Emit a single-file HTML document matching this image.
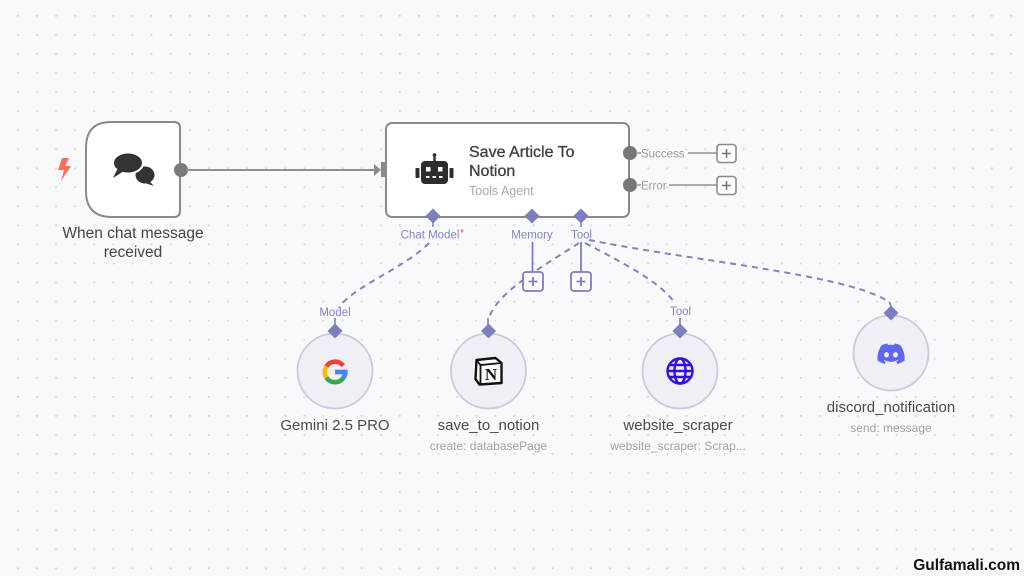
<!DOCTYPE html>
<html><head><meta charset="utf-8"><style>
html,body{margin:0;padding:0;background:#f8f9fb;}
svg{display:block;font-family:"Liberation Sans",sans-serif;}
</style></head><body>
<svg width="1024" height="576" viewBox="0 0 1024 576" xmlns="http://www.w3.org/2000/svg">
<defs>
<pattern id="grid" x="8.2" y="6.2" width="19.1" height="19.05" patternUnits="userSpaceOnUse">
<rect x="8.8" y="8.8" width="1.7" height="1.7" fill="#d3d4dc"/>
</pattern>
</defs>
<rect width="1024" height="576" fill="#f8f9fb"/>
<rect width="1024" height="576" fill="url(#grid)"/>

<!-- lightning -->
<polygon points="62,158 58,170 64,170 61,181 71,166 65,166 69,158" fill="#ff6d5a"/>

<!-- trigger node -->
<path d="M111,122 H174 Q180,122 180,128 V211 Q180,217 174,217 H112 Q86,217 86,191 V148 Q86,122 111,122 Z" fill="#ffffff" stroke="#8a8a8a" stroke-width="2"/>
<!-- chat icon -->
<ellipse cx="145" cy="175" rx="9.5" ry="8.5" fill="#333"/>
<polygon points="148,180 154,186 145,183" fill="#333"/>
<ellipse cx="128" cy="163" rx="15" ry="10.5" fill="#333" stroke="#ffffff" stroke-width="2"/>
<polygon points="118,168 113,178 124,171" fill="#333"/>
<text x="133" y="238" font-size="15.5" fill="#444" text-anchor="middle">When chat message</text>
<text x="133" y="257" font-size="15.5" fill="#444" text-anchor="middle">received</text>

<!-- main connection -->
<circle cx="181" cy="170" r="7" fill="#7a7a7a"/>
<line x1="186" y1="170" x2="376" y2="170" stroke="#8f8f8f" stroke-width="2"/>
<polygon points="374,164 381,170 374,176" fill="#8a8a8a"/>
<rect x="381" y="162" width="6" height="15" fill="#8a8a8a"/>

<!-- agent node -->
<rect x="386" y="123" width="243" height="94" rx="6" fill="#ffffff" stroke="#8a8a8a" stroke-width="2"/>
<!-- robot -->
<line x1="434.5" y1="154" x2="434.5" y2="162" stroke="#2d2d2d" stroke-width="2.4"/>
<circle cx="434.5" cy="155" r="1.8" fill="#2d2d2d"/>
<rect x="421" y="161" width="27" height="23" rx="4" fill="#2d2d2d"/>
<rect x="415.5" y="168" width="4" height="10" rx="1" fill="#2d2d2d"/>
<rect x="449.5" y="168" width="4" height="10" rx="1" fill="#2d2d2d"/>
<rect x="426" y="167" width="4.5" height="4.5" fill="#fff"/>
<rect x="438" y="167" width="4.5" height="4.5" fill="#fff"/>
<rect x="426" y="176" width="3.5" height="2" fill="#fff"/>
<rect x="432.5" y="176" width="3.5" height="2" fill="#fff"/>
<rect x="439" y="176" width="3.5" height="2" fill="#fff"/>
<text x="469" y="157" font-size="16" fill="#3e3e3e" stroke="#3e3e3e" stroke-width="0.3">Save Article To</text>
<text x="469" y="176" font-size="16" fill="#3e3e3e" stroke="#3e3e3e" stroke-width="0.3">Notion</text>
<text x="469" y="195" font-size="12.5" fill="#a8a8a8">Tools Agent</text>

<!-- outputs -->
<circle cx="630" cy="153" r="7" fill="#777"/>
<circle cx="630" cy="185" r="7" fill="#777"/>
<line x1="636" y1="153" x2="641" y2="153" stroke="#999" stroke-width="1.5"/>
<line x1="636" y1="185" x2="641" y2="185" stroke="#999" stroke-width="1.5"/>
<text x="641" y="157.5" font-size="11.5" fill="#9a9a9a">Success</text>
<text x="641" y="189.5" font-size="11.5" fill="#9a9a9a">Error</text>
<line x1="688" y1="153" x2="717" y2="153" stroke="#8f8f8f" stroke-width="1.6"/>
<line x1="669" y1="185" x2="717" y2="185" stroke="#8f8f8f" stroke-width="1.6"/>
<rect x="717" y="144.5" width="19" height="18" rx="3" fill="#fff" stroke="#8a8a8a" stroke-width="1.6"/>
<path d="M726.5,149 V158 M722,153.5 H731" stroke="#777" stroke-width="1.6"/>
<rect x="717" y="176.5" width="19" height="18" rx="3" fill="#fff" stroke="#8a8a8a" stroke-width="1.6"/>
<path d="M726.5,181 V190 M722,185.5 H731" stroke="#777" stroke-width="1.6"/>

<!-- bottom handles -->
<g fill="#7d7dc0">
<polygon points="433,208.5 440.5,216 433,223.5 425.5,216"/>
<polygon points="532,208.5 539.5,216 532,223.5 524.5,216"/>
<polygon points="581,208.5 588.5,216 581,223.5 573.5,216"/>
</g>
<line x1="433" y1="222" x2="433" y2="227" stroke="#7d7dc0" stroke-width="1.5"/>
<line x1="581" y1="222" x2="581" y2="227" stroke="#7d7dc0" stroke-width="1.5"/>
<text x="430" y="238.5" font-size="11.5" fill="#8686c6" text-anchor="middle">Chat Model</text>
<text x="460" y="236" font-size="10" fill="#ff4d4d">*</text>
<text x="532" y="238.5" font-size="11.5" fill="#8686c6" text-anchor="middle">Memory</text>
<text x="581.5" y="238.5" font-size="11.5" fill="#8686c6" text-anchor="middle">Tool</text>

<!-- memory / tool solid lines + plus -->
<line x1="532.5" y1="242" x2="532.5" y2="272" stroke="#7d7dc0" stroke-width="1.8"/>
<line x1="581" y1="242" x2="581" y2="272" stroke="#7d7dc0" stroke-width="1.8"/>

<!-- dashed connections -->
<g fill="none" stroke="#8383c3" stroke-width="2" stroke-dasharray="6,5">
<path d="M429,243 C405,268 350,288 339,308"/>
<path d="M579,243 C545,265 497,292 489,318"/>
<path d="M585,243 C625,264 660,282 674,302"/>
<path d="M589,240 C700,262 850,275 889,302"/>
</g>
<rect x="523" y="272" width="20" height="19" rx="3" fill="#fbfbfd" stroke="#7d7dc0" stroke-width="1.8"/>
<path d="M533,277 V286 M528.5,281.5 H537.5" stroke="#7d7dc0" stroke-width="1.8"/>
<rect x="571" y="272" width="20" height="19" rx="3" fill="#fbfbfd" stroke="#7d7dc0" stroke-width="1.8"/>
<path d="M581,277 V286 M576.5,281.5 H585.5" stroke="#7d7dc0" stroke-width="1.8"/>

<!-- sub node labels -->
<text x="335" y="316" font-size="11.5" fill="#8686c6" text-anchor="middle">Model</text>
<text x="680.5" y="315" font-size="11.5" fill="#8686c6" text-anchor="middle">Tool</text>
<g stroke="#7d7dc0" stroke-width="1.6" fill="none">
<line x1="335" y1="318" x2="335" y2="326"/>
<line x1="680" y1="318" x2="680" y2="326"/>
<line x1="488" y1="318" x2="488" y2="326"/>
<path d="M889,302 Q891,304 891,309"/>
</g>

<!-- circles -->
<g fill="#efeff5" stroke="#c9c9df" stroke-width="1.8">
<circle cx="335" cy="371" r="37.5"/>
<circle cx="488.5" cy="371" r="37.5"/>
<circle cx="680" cy="371" r="37.5"/>
<circle cx="891" cy="353" r="37.5"/>
</g>
<g fill="#7d7dc0">
<polygon points="335,323.5 342.5,331 335,338.5 327.5,331"/>
<polygon points="488.5,323.5 496,331 488.5,338.5 481,331"/>
<polygon points="680,323.5 687.5,331 680,338.5 672.5,331"/>
<polygon points="891,305.5 898.5,313 891,320.5 883.5,313"/>
</g>

<!-- Google G -->
<g transform="translate(335,372)" fill="none" stroke-width="4.6">
<path d="M8.2,-6.3 A10.3,10.3 0 0 0 -8.6,-5.6" stroke="#ea4335"/>
<path d="M-8.6,-5.6 A10.3,10.3 0 0 0 -8.6,5.6" stroke="#fbbc05"/>
<path d="M-8.6,5.6 A10.3,10.3 0 0 0 8.3,6" stroke="#34a853"/>
<path d="M8.3,6 A10.3,10.3 0 0 0 10.3,0" stroke="#4285f4"/>
<line x1="0" y1="0" x2="12.6" y2="0" stroke="#4285f4"/>
</g>

<!-- Notion -->
<g transform="translate(488.5,371)">
<path d="M-12,-11 L7,-13 L13,-8 L13,12 L-9,13.5 L-13,8 Z" fill="#fff" stroke="#111" stroke-width="2.4" stroke-linejoin="round"/>
<path d="M-12,-11 L-8,-6 L13,-8" fill="none" stroke="#111" stroke-width="1.8"/>
<line x1="-8" y1="-6" x2="-8" y2="13" stroke="#111" stroke-width="1.8"/>
<text x="2.5" y="9" font-family="Liberation Serif,serif" font-weight="bold" font-size="17" fill="#111" text-anchor="middle">N</text>
</g>

<!-- Globe -->
<g transform="translate(680,371)" fill="none" stroke="#2f10e6" stroke-width="2.4">
<circle r="12.5"/>
<ellipse rx="5.5" ry="12.5"/>
<line x1="-12.5" y1="0" x2="12.5" y2="0"/>
<line x1="-11" y1="-6" x2="11" y2="-6"/>
<line x1="-11" y1="6" x2="11" y2="6"/>
</g>

<!-- Discord -->
<g transform="translate(877.5,343.5) scale(0.213)">
<path fill="#5f66f0" d="M107.7,8.07A105.15,105.15,0,0,0,81.47,0a72.06,72.06,0,0,0-3.36,6.83A97.68,97.68,0,0,0,49,6.83,72.37,72.37,0,0,0,45.64,0,105.89,105.89,0,0,0,19.39,8.09C2.79,32.65-1.71,56.6.54,80.21h0A105.73,105.73,0,0,0,32.71,96.36,77.7,77.7,0,0,0,39.6,85.25a68.420,68.420,0,0,1-10.85-5.18c.91-.66,1.8-1.34,2.66-2a75.57,75.57,0,0,0,64.32,0c.87.71,1.76,1.39,2.66,2a68.68,68.68,0,0,1-10.87,5.19,77,77,0,0,0,6.89,11.1A105.25,105.25,0,0,0,126.6,80.22h0C129.24,52.84,122.09,29.11,107.7,8.07ZM42.45,65.69C36.18,65.69,31,60,31,53s5-12.74,11.43-12.74S54,46,53.89,53,48.84,65.69,42.45,65.69Zm42.24,0C78.41,65.69,73.25,60,73.25,53s5-12.74,11.44-12.74S96.23,46,96.12,53,91.08,65.69,84.69,65.69Z"/>
</g>

<!-- sub node text -->
<text x="335" y="430" font-size="15" fill="#4a4a4a" text-anchor="middle">Gemini 2.5 PRO</text>
<text x="488.5" y="430" font-size="15" fill="#4a4a4a" text-anchor="middle">save_to_notion</text>
<text x="488.5" y="450" font-size="12" fill="#a3a3a3" text-anchor="middle">create: databasePage</text>
<text x="678" y="430" font-size="15" fill="#4a4a4a" text-anchor="middle">website_scraper</text>
<text x="678" y="450" font-size="12" fill="#a3a3a3" text-anchor="middle">website_scraper: Scrap...</text>
<text x="891" y="412" font-size="15" fill="#4a4a4a" text-anchor="middle">discord_notification</text>
<text x="891" y="432" font-size="12" fill="#a3a3a3" text-anchor="middle">send: message</text>

<!-- watermark -->
<text x="1020" y="570" font-size="15.5" font-weight="bold" fill="#111" text-anchor="end">Gulfamali.com</text>
</svg>
</body></html>
